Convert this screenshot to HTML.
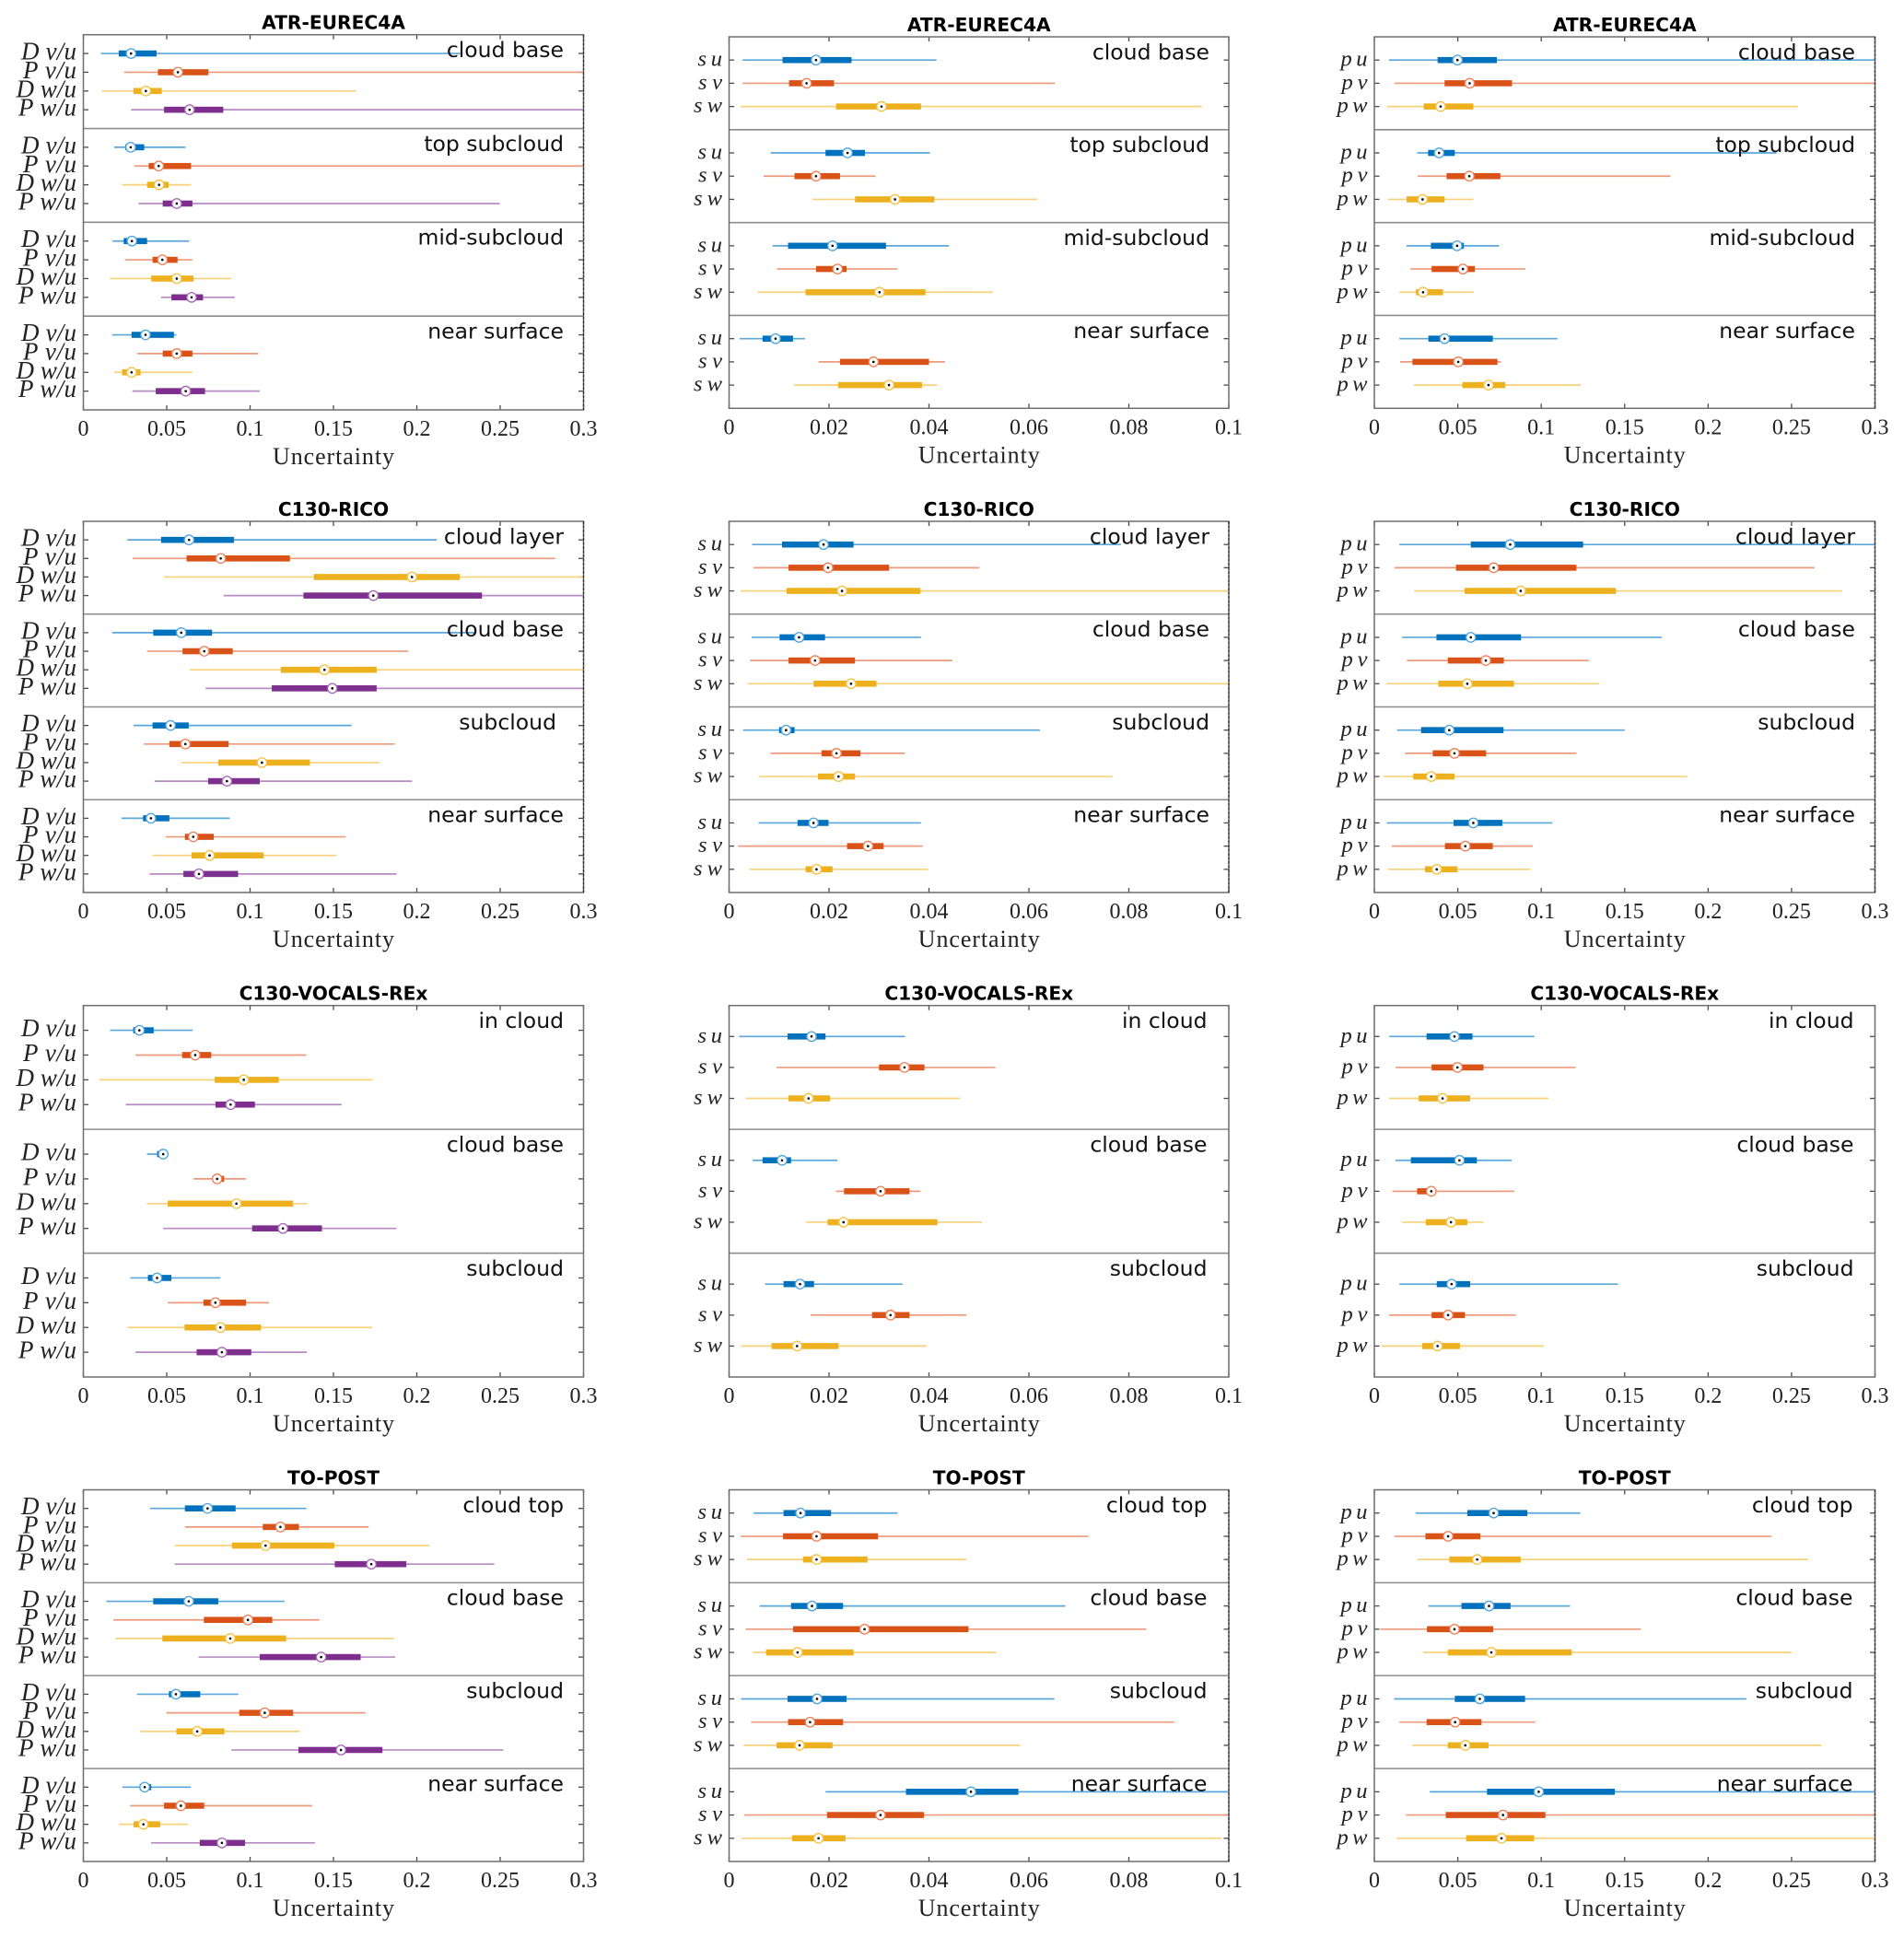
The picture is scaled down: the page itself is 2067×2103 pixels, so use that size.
<!DOCTYPE html>
<html lang="en">
<head>
<meta charset="utf-8">
<title>Uncertainty box plots</title>
<style>
html,body{margin:0;padding:0;background:#fff;}
svg{display:block;}
.title{font-family:"DejaVu Sans","Liberation Sans",sans-serif;font-weight:bold;font-size:20.2px;fill:#000;text-anchor:middle;}
.region{font-family:"DejaVu Sans","Liberation Sans",sans-serif;font-size:23.5px;fill:#111;text-anchor:end;}
.tick{font-family:"Liberation Serif",serif;font-size:24px;fill:#222;text-anchor:middle;}
.xlabel{font-family:"Liberation Serif",serif;font-size:26px;fill:#222;text-anchor:middle;}
.ylabel{font-family:"Liberation Serif",serif;font-style:italic;font-size:27px;fill:#222;text-anchor:end;}
.ylabel.short{font-size:24.5px;}
</style>
</head>
<body>
<svg id="fig" xmlns="http://www.w3.org/2000/svg" width="2067" height="2103" viewBox="0 0 2067 2103"></svg>
<script>
/* Category and tick arrays */
const ratioCats = ['D v/u','P v/u','D w/u','P w/u'];
const stdCats = ['s u','s v','s w'];
const prodCats = ['p u','p v','p w'];
const ratioTicks = [0,0.05,0.1,0.15,0.2,0.25,0.3];
const ratioTickLabels = ['0','0.05','0.1','0.15','0.2','0.25','0.3'];
const stdTicks = [0,0.02,0.04,0.06,0.08,0.1];
const stdTickLabels = ['0','0.02','0.04','0.06','0.08','0.1'];

/* Each row: low whisker, q1, median, q3, high whisker */
const atrRatioBase = [[.0106,.0212,.0286,.0439,.226],[.0244,.0447,.0567,.075,.32],[.011,.030,.0375,.047,.1636],[.0286,.0484,.0637,.0839,.32]];
const atrRatioTop = [[.0185,.0252,.0284,.0365,.0612],[.0306,.0392,.0452,.0646,.32],[.0232,.0382,.0454,.0511,.0646],[.0331,.0476,.056,.0654,.2497]];
const atrRatioMid = [[.0175,.0242,.0291,.0382,.0634],[.0249,.0415,.0474,.0565,.0654],[.0158,.0407,.056,.0661,.0886],[.0466,.0528,.0649,.0718,.0908]];
const atrRatioNear = [[.0173,.0289,.0373,.0543,.0558],[.0323,.0476,.056,.0654,.1049],[.0185,.0232,.0289,.0343,.0654],[.0294,.0434,.0614,.073,.1058]];

const atrStdBase = [[.0027,.0107,.0174,.0245,.0415],[.0027,.012,.0155,.021,.0652],[.0023,.0214,.0305,.0384,.0946]];
const atrStdTop = [[.0083,.0193,.0237,.0272,.0402],[.0069,.0131,.0174,.0222,.0293],[.0167,.0252,.0332,.0411,.0617]];
const atrStdMid = [[.0087,.0118,.0207,.0314,.044],[.0096,.0174,.0217,.0235,.0337],[.0057,.0153,.0301,.0393,.0528]];
const atrStdNear = [[.0021,.0067,.0093,.0128,.0152],[.0179,.0222,.0289,.04,.0432],[.013,.0218,.032,.0386,.0416]];

const atrProdBase = [[.0087,.0379,.0498,.0734,.32],[.012,.0421,.0571,.0825,.32],[.0075,.0296,.0397,.0593,.2537]];
const atrProdTop = [[.0256,.0322,.0388,.0482,.241],[.0259,.0433,.0569,.0755,.1775],[.0082,.0193,.0289,.0421,.0593]];
const atrProdMid = [[.0193,.0339,.0496,.0536,.0748],[.0216,.0343,.0531,.0602,.0905],[.015,.0249,.0292,.0411,.0595]];
const atrProdNear = [[.015,.0324,.0421,.071,.1098],[.0155,.0228,.0503,.0738,.0759],[.0237,.0527,.0684,.0785,.1237]];

const ricoRatioLayer = [[.0264,.0466,.0634,.0903,.2119],[.0296,.0619,.0824,.1239,.283],[.0484,.1382,.1971,.2258,.32],[.0841,.132,.1739,.2391,.32]];
const ricoRatioBase = [[.0173,.0419,.0587,.0772,.2356],[.0382,.0595,.0725,.0896,.1949],[.0639,.1184,.1446,.1759,.32],[.0733,.113,.1493,.1759,.32]];
const ricoRatioSub = [[.0301,.0415,.0523,.0632,.1609],[.0363,.0516,.0612,.0871,.1868],[.0587,.0809,.1071,.1359,.1779],[.0427,.0748,.0861,.1058,.1971]];
const ricoRatioNear = [[.0229,.0358,.0405,.0516,.0878],[.0493,.0609,.0659,.0782,.1574],[.0415,.0649,.0757,.1081,.1517],[.0397,.06,.0693,.0928,.1878]];

const ricoStdLayer = [[.0046,.0106,.0189,.0249,.0784],[.0049,.0119,.0198,.032,.0501],[.0023,.0115,.0226,.0383,.11]];
const ricoStdBase = [[.0045,.0101,.014,.0192,.0384],[.0042,.0119,.0172,.0252,.0447],[.0037,.0169,.0244,.0295,.11]];
const ricoStdSub = [[.0028,.01,.0114,.0131,.0622],[.0083,.0185,.0215,.0263,.0352],[.0059,.0178,.0219,.0252,.0768]];
const ricoStdNear = [[.0059,.0137,.0169,.0199,.0384],[.0018,.0236,.0278,.0309,.0387],[.004,.0153,.0175,.0207,.0398]];

const ricoProdLayer = [[.015,.0578,.0814,.1251,.32],[.012,.0489,.0715,.1211,.2638],[.0237,.0541,.0877,.1448,.2803]];
const ricoProdBase = [[.0167,.0372,.0578,.0879,.1723],[.0195,.044,.0668,.0776,.1284],[.0071,.0383,.0557,.0837,.1347]];
const ricoProdSub = [[.0136,.028,.0449,.0774,.15],[.0183,.035,.048,.067,.1211],[.0054,.0233,.0341,.048,.1876]];
const ricoProdNear = [[.0075,.0475,.0593,.0767,.1067],[.0103,.0423,.0545,.071,.095],[.008,.0303,.0374,.0498,.0933]];

const vocalsRatioCloud = [[.016,.0299,.0336,.0422,.0656],[.0313,.0592,.0671,.0767,.1337],[.0096,.0787,.0962,.1172,.1735],[.0254,.0792,.0883,.1029,.1549]];
const vocalsRatioBase = [[.0382,.0442,.0479,.0498,.0511],[.0661,.0777,.0802,.0844,.0975],[.038,.0506,.0918,.1258,.1342],[.0479,.1012,.1197,.1431,.1878]];
const vocalsRatioSub = [[.0281,.0387,.0442,.0528,.0822],[.0506,.072,.0792,.0975,.1113],[.0264,.0607,.0822,.1066,.1732],[.0313,.0679,.0831,.1007,.134]];

const vocalsStdCloud = [[.002,.0117,.0165,.0193,.0352],[.0095,.03,.0351,.0391,.0533],[.0033,.0119,.0159,.0202,.0462]];
const vocalsStdBase = [[.0047,.0067,.0106,.0124,.0217],[.0214,.023,.0303,.0361,.0383],[.0154,.0197,.0229,.0417,.0506]];
const vocalsStdSub = [[.0072,.0109,.0142,.017,.0347],[.0163,.0286,.0323,.0361,.0475],[.0024,.0085,.0136,.0219,.0395]];

const vocalsProdCloud = [[.0089,.0313,.048,.0588,.0959],[.0127,.0343,.0498,.0654,.1206],[.0087,.0266,.0409,.0574,.1044]];
const vocalsProdBase = [[.0127,.0219,.051,.0614,.0823],[.0108,.0256,.0341,.0364,.0839],[.0165,.0308,.0459,.0557,.0654]];
const vocalsProdSub = [[.015,.0374,.0463,.0574,.146],[.0087,.0343,.0442,.0543,.0849],[.0042,.0287,.0379,.0513,.1016]];

const postRatioTop = [[.04,.0609,.0745,.0913,.1337],[.0609,.1076,.1182,.1293,.1712],[.0548,.0891,.1093,.1505,.2075],[.0548,.1508,.1727,.1937,.2465]];
const postRatioBase = [[.0138,.0419,.0632,.0809,.1207],[.018,.0723,.0987,.1133,.1416],[.0192,.0474,.0881,.1216,.1863],[.0691,.1058,.1426,.1663,.187]];
const postRatioSub = [[.0321,.0513,.0555,.0701,.093],[.0498,.0935,.1088,.1258,.1693],[.0338,.0558,.0683,.0846,.1298],[.0888,.129,.1545,.1794,.2519]];
const postRatioNear = [[.0234,.0338,.0368,.0407,.0644],[.0279,.0484,.0585,.0725,.1372],[.0215,.0301,.036,.0461,.0629],[.0405,.0698,.0831,.097,.1389]];

const postStdTop = [[.0049,.0109,.0143,.0204,.0337],[.0023,.0108,.0175,.0298,.0719],[.0036,.0148,.0175,.0277,.0475]];
const postStdBase = [[.0061,.0124,.0166,.0228,.0673],[.0033,.0128,.0271,.0479,.0835],[.0048,.0074,.0137,.0249,.0535]];
const postStdSub = [[.0024,.0117,.0176,.0235,.0651],[.0044,.0118,.0162,.0228,.0891],[.0029,.0095,.0141,.0207,.0582]];
const postStdNear = [[.0193,.0354,.0484,.0579,.11],[.003,.0196,.0303,.039,.11],[.0025,.0126,.0179,.0233,.0985]];

const postProdTop = [[.0247,.0557,.0715,.0917,.1234],[.012,.0306,.0442,.0635,.238],[.0259,.0449,.0616,.0877,.26]];
const postProdBase = [[.0324,.0522,.0687,.0816,.1173],[.0035,.0315,.048,.0712,.1597],[.0292,.044,.0701,.1183,.25]];
const postProdSub = [[.0118,.0482,.0632,.0903,.2229],[.015,.0313,.0484,.0642,.0964],[.0226,.044,.0545,.0684,.2678]];
const postProdNear = [[.0332,.0675,.0985,.1441,.32],[.019,.0428,.0771,.1025,.32],[.0134,.055,.0762,.0957,.32]];

/* Layout */
const colX = [[90.5,633.5],[791.5,1334],[1492,2035.5]];
const seriesColors = ['#0072BD','#D95319','#EDB120','#7E2F8E'];
const whiskerColors = ['#5aa7dc','#ee9a7c','#f8d27a','#b88bc4'];
const ringColors = ['#4da3dd','#ee7f55','#f7c13f','#a862b8'];

const kinds = {
  ratio:{cats:ratioCats, ticks:ratioTicks, labels:ratioTickLabels, xmax:0.3, cls:'ylabel', lab:{'D v/u':60,'P v/u':58,'D w/u':65.5,'P w/u':63}},
  std:{cats:stdCats, ticks:stdTicks, labels:stdTickLabels, xmax:0.1, cls:'ylabel short', lab:{'s u':26.5,'s v':26,'s w':31}},
  prod:{cats:prodCats, ticks:ratioTicks, labels:ratioTickLabels, xmax:0.3, cls:'ylabel short', lab:{'p u':29,'p v':28,'p w':33}}
};

const panels = [
 {title:'ATR-EUREC4A',col:0,top:37.7,bottom:445,kind:'ratio',dash:1,lx:612,sub:[['cloud base',atrRatioBase],['top subcloud',atrRatioTop],['mid-subcloud',atrRatioMid],['near surface',atrRatioNear]]},
 {title:'ATR-EUREC4A',col:1,top:40,bottom:443.3,kind:'std',dash:0,lx:1313,sub:[['cloud base',atrStdBase],['top subcloud',atrStdTop],['mid-subcloud',atrStdMid],['near surface',atrStdNear]]},
 {title:'ATR-EUREC4A',col:2,top:40,bottom:443.3,kind:'prod',dash:1,lx:2014,sub:[['cloud base',atrProdBase],['top subcloud',atrProdTop],['mid-subcloud',atrProdMid],['near surface',atrProdNear]]},
 {title:'C130-RICO',col:0,top:566,bottom:969,kind:'ratio',dash:1,lx:612,sub:[['cloud layer',ricoRatioLayer],['cloud base',ricoRatioBase],['subcloud',ricoRatioSub,604],['near surface',ricoRatioNear]]},
 {title:'C130-RICO',col:1,top:566,bottom:969,kind:'std',dash:1,lx:1313,sub:[['cloud layer',ricoStdLayer],['cloud base',ricoStdBase],['subcloud',ricoStdSub],['near surface',ricoStdNear]]},
 {title:'C130-RICO',col:2,top:566,bottom:969,kind:'prod',dash:1,lx:2014,sub:[['cloud layer',ricoProdLayer],['cloud base',ricoProdBase],['subcloud',ricoProdSub],['near surface',ricoProdNear]]},
 {title:'C130-VOCALS-REx',col:0,top:1091.7,bottom:1495,kind:'ratio',dash:0,lx:612,sub:[['in cloud',vocalsRatioCloud],['cloud base',vocalsRatioBase],['subcloud',vocalsRatioSub]]},
 {title:'C130-VOCALS-REx',col:1,top:1091.7,bottom:1495,kind:'std',dash:0,lx:1310.5,sub:[['in cloud',vocalsStdCloud],['cloud base',vocalsStdBase],['subcloud',vocalsStdSub]]},
 {title:'C130-VOCALS-REx',col:2,top:1091.7,bottom:1495,kind:'prod',dash:0,lx:2012.5,sub:[['in cloud',vocalsProdCloud],['cloud base',vocalsProdBase],['subcloud',vocalsProdSub]]},
 {title:'TO-POST',col:0,top:1617.5,bottom:2021,kind:'ratio',dash:0,lx:612,sub:[['cloud top',postRatioTop],['cloud base',postRatioBase],['subcloud',postRatioSub],['near surface',postRatioNear]]},
 {title:'TO-POST',col:1,top:1617.5,bottom:2021,kind:'std',dash:1,lx:1310.5,sub:[['cloud top',postStdTop],['cloud base',postStdBase],['subcloud',postStdSub],['near surface',postStdNear]]},
 {title:'TO-POST',col:2,top:1617.5,bottom:2021,kind:'prod',dash:1,lx:2011.5,sub:[['cloud top',postProdTop],['cloud base',postProdBase],['subcloud',postProdSub],['near surface',postProdNear]]}
];

const NS = 'http://www.w3.org/2000/svg';
const fig = document.getElementById('fig');
function mk(tag, attrs, parent, text){
  const e = document.createElementNS(NS, tag);
  for(const k in attrs){ e.setAttribute(k, attrs[k]); }
  if(text !== undefined){ e.textContent = text; }
  parent.appendChild(e);
  return e;
}

const FRAME = '#6e6e6e', TICK = '#4a4a4a';

panels.forEach(function(p, pi){
  const kind = kinds[p.kind];
  const L = colX[p.col][0], R = colX[p.col][1];
  const xs = function(v){ return L + (v / kind.xmax) * (R - L); };
  const n = p.sub.length;
  const H = (p.bottom - p.top) / n;
  const cats = kind.cats;
  const step = H / (cats.length + 1);

  const g = mk('g', {}, fig);
  
  

  const title = mk('text', {x:(L+R)/2, y:p.top-6, class:'title'}, g, p.title);
  
  

  const clipId = 'clip' + pi;
  const defs = mk('defs', {}, g);
  const cp = mk('clipPath', {id:clipId}, defs);
  mk('rect', {x:L, y:p.top, width:R-L, height:p.bottom-p.top}, cp);

  /* y ticks */
  p.sub.forEach(function(s, si){
    const t0 = p.top + si * H;
    cats.forEach(function(c, ci){
      const y = t0 + step * (ci + 1);
      const a = mk('line', {x1:L, x2:L+5.5, y1:y, y2:y, stroke:TICK, 'stroke-width':1.3}, g);
      
      
      const b = mk('line', {x1:R-5.5, x2:R, y1:y, y2:y, stroke:TICK, 'stroke-width':1.3}, g);
      
      
      const lab = mk('text', {x:L-7.5, y:y+6.5, class:kind.cls, textLength:kind.lab[c], lengthAdjust:'spacing'}, g, c);
      
      
    });
  });

  /* x ticks and labels */
  kind.ticks.forEach(function(t, ti){
    const x = xs(t);
    const a = mk('line', {x1:x, x2:x, y1:p.top, y2:p.top+5, stroke:TICK, 'stroke-width':1.3}, g);
    
    
    const b = mk('line', {x1:x, x2:x, y1:p.bottom-5, y2:p.bottom, stroke:TICK, 'stroke-width':1.3}, g);
    
    
    const lab = mk('text', {x:x, y:p.bottom+28, class:'tick'}, g, kind.labels[ti]);
    
    
  });

  /* marks */
  const marks = mk('g', {'clip-path':'url(#' + clipId + ')'}, g);
  
  
  p.sub.forEach(function(s, si){
    const t0 = p.top + si * H;
    s[1].forEach(function(row, ci){
      const y = t0 + step * (ci + 1);
      const low = row[0], q1 = row[1], med = row[2], q3 = row[3], high = row[4];
      const w = mk('line', {x1:xs(low), x2:xs(high), y1:y, y2:y, stroke:whiskerColors[ci], 'stroke-width':1.7}, marks);
      
      
      const box = mk('rect', {x:xs(q1), y:y-3.3, width:xs(q3)-xs(q1), height:6.6, fill:seriesColors[ci]}, marks);
      
      
      const ring = mk('circle', {cx:xs(med), cy:y, r:5.2, fill:'#fff', stroke:ringColors[ci], 'stroke-width':1.3}, marks);
      
      
      const dot = mk('circle', {cx:xs(med), cy:y, r:1.3, fill:'#000'}, marks);
      
      
    });
  });

  /* separators, frame and region labels */
  for(let i = 1; i < n; i++){
    const y = p.top + i * H;
    const sep = mk('line', {x1:L, x2:R, y1:y, y2:y, stroke:'#8c8c8c', 'stroke-width':1.6}, g);
    
    
  }
  const frame = mk('rect', {x:L, y:p.top, width:R-L, height:p.bottom-p.top, fill:'none', stroke:FRAME, 'stroke-width':1.5}, g);
  
  
  if(p.dash){
    const d = mk('line', {x1:R, x2:R, y1:p.top, y2:p.bottom, stroke:'#2a2a2a', 'stroke-width':1.2, 'stroke-dasharray':'3 1.5'}, g);
    
    
  }
  p.sub.forEach(function(s, si){
    const t0 = p.top + si * H;
    const lbl = mk('text', {x:s[2] || p.lx, y:t0+24.3, class:'region'}, g, s[0]);
    
    
  });

  const xl = mk('text', {x:(L+R)/2, y:p.bottom+59, class:'xlabel', textLength:132, lengthAdjust:'spacing'}, g, 'Uncertainty');
  
  
});
</script>
</body>
</html>
